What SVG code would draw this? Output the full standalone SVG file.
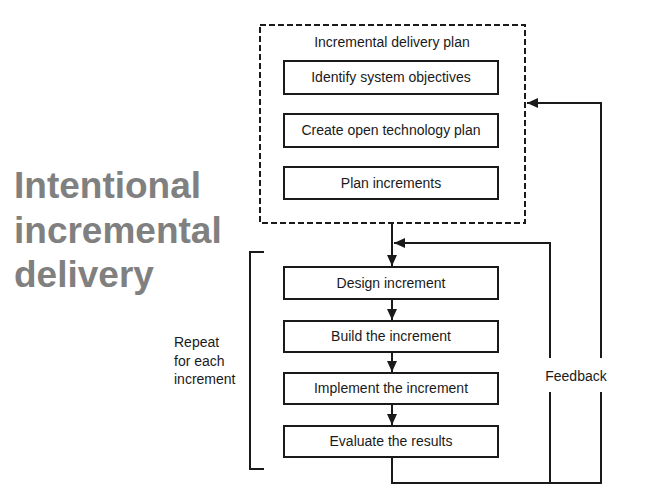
<svg xmlns="http://www.w3.org/2000/svg" width="653" height="490" viewBox="0 0 653 490">
<style>
.box{fill:#fff;stroke:#1a1a1a;stroke-width:2}
.lbl{font-family:"Liberation Sans",Arial,sans-serif;font-size:14px;fill:#1a1a1a;text-anchor:middle}
.ln{fill:none;stroke:#1a1a1a;stroke-width:2}
.big{font-family:"Liberation Sans",Arial,sans-serif;font-size:37px;font-weight:bold;fill:#808080}
</style>
<defs>
<marker id="ah" markerUnits="userSpaceOnUse" markerWidth="12" markerHeight="12" refX="11" refY="5" orient="auto" viewBox="0 0 12 10">
<path d="M0,0 L11,5 L0,10 z" fill="#1a1a1a"/>
</marker>
</defs>
<rect width="653" height="490" fill="#fff"/>
<g id="title">
<text class="big" x="14" y="198">Intentional</text>
<text class="big" x="14" y="243">incremental</text>
<text class="big" x="14" y="287">delivery</text>
</g>
<g id="plan">
<rect x="260" y="25" width="265" height="198" fill="none" stroke="#1a1a1a" stroke-width="2" stroke-dasharray="6,3"/>
<text class="lbl" x="392" y="47">Incremental delivery plan</text>
</g>
<g id="identify"><rect class="box" x="284" y="61" width="214" height="33"/><text class="lbl" x="391" y="82">Identify system objectives</text></g>
<g id="create"><rect class="box" x="284" y="114" width="214" height="33"/><text class="lbl" x="391" y="135">Create open technology plan</text></g>
<g id="planinc"><rect class="box" x="284" y="167" width="214" height="32"/><text class="lbl" x="391" y="188">Plan increments</text></g>
<g id="design"><rect class="box" x="284" y="267" width="214" height="32"/><text class="lbl" x="391" y="288">Design increment</text></g>
<g id="build"><rect class="box" x="284" y="321" width="214" height="31"/><text class="lbl" x="391" y="341">Build the increment</text></g>
<g id="implement"><rect class="box" x="284" y="373" width="214" height="31"/><text class="lbl" x="391" y="393">Implement the increment</text></g>
<g id="evaluate"><rect class="box" x="284" y="426" width="214" height="31"/><text class="lbl" x="391" y="446">Evaluate the results</text></g>
<g id="repeat">
<path class="ln" d="M264,252 H250 V469 H264"/>
<text class="lbl" style="text-anchor:start" x="174" y="347">Repeat</text>
<text class="lbl" style="text-anchor:start" x="174" y="366">for each</text>
<text class="lbl" style="text-anchor:start" x="174" y="384">increment</text>
</g>
<g id="connectors">
<line class="ln" x1="392" y1="223" x2="392" y2="266" marker-end="url(#ah)"/>
<line class="ln" x1="392" y1="299" x2="392" y2="320" marker-end="url(#ah)"/>
<line class="ln" x1="392" y1="352" x2="392" y2="372" marker-end="url(#ah)"/>
<line class="ln" x1="392" y1="404" x2="392" y2="425" marker-end="url(#ah)"/>
<path class="ln" d="M392,457 V483 H601 V392"/>
<path class="ln" d="M601,358 V103 H527" marker-end="url(#ah)"/>
<path class="ln" d="M550,483 V392"/>
<path class="ln" d="M550,358 V243 H394" marker-end="url(#ah)"/>
<text class="lbl" x="576" y="381">Feedback</text>
</g>
</svg>
